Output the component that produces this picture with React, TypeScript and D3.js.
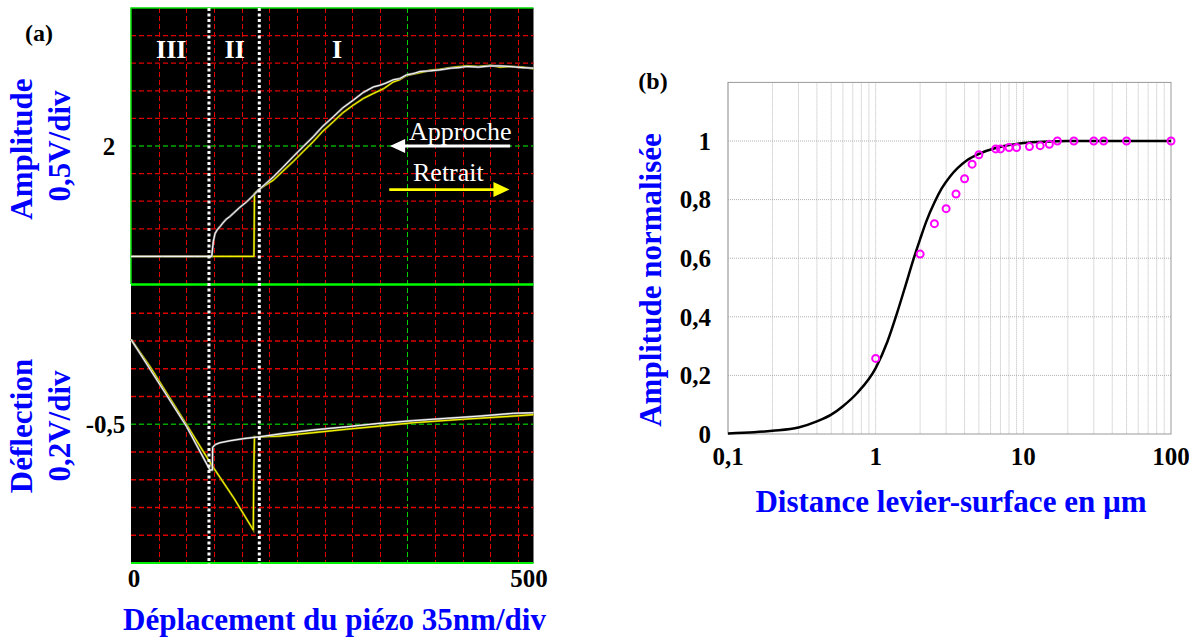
import React from "react";
import * as d3 from "d3";

const FONT = "'Liberation Serif', 'Times New Roman', Times, serif";
const BLUE = "#0000ff";

// ---------- Panel (a): oscilloscope traces (x in nm, 35 nm/div) ----------
const ampApprocheX = [0, 40, 80, 102.2, 104.2, 106.3, 109, 112.7, 116, 120.3, 125, 129.5, 137, 146.5, 153, 161.1, 170, 180.1, 192, 205.4, 218, 230.8, 243, 256.1, 268, 281.4, 294, 306.7, 315, 322.8, 332, 340, 349, 357, 365.8, 378, 391.1, 405, 415, 424.9, 440, 455, 467.1, 480, 495, 509.5];
const ampApprocheY = [0, 0, 0, 0, 0.27, 0.41, 0.48, 0.54, 0.6, 0.67, 0.72, 0.78, 0.88, 0.99, 1.08, 1.2, 1.31, 1.44, 1.61, 1.81, 1.99, 2.17, 2.36, 2.53, 2.69, 2.83, 2.97, 3.07, 3.1, 3.14, 3.2, 3.22, 3.29, 3.31, 3.35, 3.36, 3.38, 3.41, 3.42, 3.44, 3.43, 3.45, 3.45, 3.44, 3.42, 3.41];

const ampRetraitX = [0, 60, 120, 155.6, 156.0, 156.3, 161.1, 170, 180.1, 192, 205.4, 218, 230.8, 243, 256.1, 268, 281.4, 294, 306.7, 320, 332, 340, 349, 365.8, 378, 391.1, 405, 424.9, 440, 455, 467.1, 480, 495, 509.5];
const ampRetraitY = [0, 0, 0, 0, 0.6, 1.14, 1.2, 1.29, 1.38, 1.54, 1.72, 1.9, 2.08, 2.27, 2.44, 2.6, 2.74, 2.86, 2.95, 3.04, 3.16, 3.2, 3.28, 3.33, 3.37, 3.39, 3.42, 3.45, 3.44, 3.46, 3.43, 3.44, 3.43, 3.4];

const defApprocheX = [0, 40.9, 70.5, 100, 103.0, 103.4, 107, 112.7, 125.3, 142.2, 163.3, 188.6, 230.8, 273, 315.2, 357.3, 399.6, 441.8, 483.9, 509.5];
const defApprocheY = [0.112, -0.253, -0.518, -0.83, -0.83, -0.665, -0.645, -0.633, -0.619, -0.604, -0.59, -0.57, -0.541, -0.518, -0.493, -0.474, -0.457, -0.441, -0.421, -0.417];

const defRetraitX = [0, 24.1, 70.5, 102.2, 130, 154.8, 155.5, 156.3, 160, 188.6, 230.8, 273, 315.2, 357.3, 420.6, 483.9, 509.5];
const defRetraitY = [0.112, -0.085, -0.505, -0.794, -1.03, -1.262, -0.82, -0.59, -0.592, -0.585, -0.561, -0.536, -0.513, -0.489, -0.464, -0.441, -0.431];

const regionBounds = [98.7, 162.4]; // nm, dotted separators
const regionLabels = ["III", "II", "I"];
const regionLabelX = [51, 131.3, 260.8];
const xTicksA = [0, 500];

// ---------- Panel (b): normalised amplitude vs distance ----------
const measDist = [1, 2, 2.5, 3, 3.5, 4, 4.5, 5, 6.5, 7, 8, 9, 11, 13, 15, 17, 22, 30, 35, 50, 100];
const measAmp = [0.258, 0.614, 0.718, 0.769, 0.819, 0.871, 0.921, 0.953, 0.973, 0.973, 0.978, 0.978, 0.981, 0.984, 0.989, 1.0, 1.0, 1.0, 1.0, 1.0, 1.0];

const fitDist = [0.1, 0.15, 0.2, 0.3, 0.4, 0.5, 0.6, 0.75, 1.0, 1.2, 1.4, 1.6, 1.8, 2.0, 2.2, 2.5, 2.8, 3.2, 3.6, 4.2, 5, 6.5, 8, 10, 15, 20, 100];
const fitAmp = [0.002, 0.006, 0.011, 0.022, 0.043, 0.066, 0.095, 0.14, 0.225, 0.315, 0.415, 0.51, 0.595, 0.665, 0.725, 0.79, 0.838, 0.88, 0.908, 0.936, 0.956, 0.976, 0.986, 0.993, 0.998, 1.0, 1.0];

const yTicksB = [0, 0.2, 0.4, 0.6, 0.8, 1];
const xTicksB = [0.1, 1, 10, 100];

const fmt = (v: number) => String(v).replace(".", ",");

export default function App() {
  // Panel (a) scales
  const xA = d3.scaleLinear().domain([0, 509.5]).range([131, 533.5]);
  const yAmp = d3.scaleLinear().domain([-0.5, 4.5]).range([284, 8]);
  const yDef = d3.scaleLinear().domain([-1.5, 0.5]).range([563, 285.5]);

  const lineAmp = d3.line<[number, number]>().x((d) => xA(d[0])).y((d) => yAmp(d[1]));
  const lineDef = d3.line<[number, number]>().x((d) => xA(d[0])).y((d) => yDef(d[1]));
  const zip = (a: number[], b: number[]) => a.map((v, i) => [v, b[i]] as [number, number]);

  const gridX = d3.range(1, 15).map((k) => k * 35);
  const gridAmp = d3.range(0, 9).map((k) => k * 0.5);
  const gridDef = [-1.3, -1.1, -0.9, -0.7, -0.5, -0.3, -0.1, 0.1, 0.3];

  // Panel (b) scales
  const xB = d3.scaleLog().domain([0.1, 100]).range([728, 1171]);
  const yB = d3.scaleLinear().domain([0, 1.2]).range([434, 82.4]);
  const minorB: number[] = [];
  [0.1, 1, 10].forEach((d) => {
    for (let k = 1; k <= 9; k++) minorB.push(d * k);
  });
  const fitLine = d3
    .line<[number, number]>()
    .x((d) => xB(d[0]))
    .y((d) => yB(d[1]))
    .curve(d3.curveMonotoneX);

  const x0 = xA.range()[0];
  const x1 = xA.range()[1];
  const yTop = yAmp.range()[1];
  const yMid = yAmp.range()[0];
  const yBot = yDef.range()[0];

  const isCenterX = (v: number) => Math.abs(v - 350) < 1e-6;

  return (
    <svg
      width={1189}
      height={642}
      style={{ position: "absolute", left: 0, top: 0, display: "block", background: "#fff" }}
      fontFamily={FONT}
    >
      {/* ===== Panel (a) ===== */}
      <rect x={x0} y={yTop} width={x1 - x0} height={yBot - yTop} fill="#000" />
      {/* vertical grid */}
      {gridX.map((v) => (
        <line
          key={"gx" + v}
          x1={Math.round(xA(v)) + 0.5}
          x2={Math.round(xA(v)) + 0.5}
          y1={yTop}
          y2={yBot}
          stroke={isCenterX(v) ? "#00d000" : "#e00000"}
          strokeWidth={1}
          strokeDasharray="5,3"
        />
      ))}
      {/* horizontal grid amplitude */}
      {gridAmp.map((v) => (
        <line
          key={"ga" + v}
          x1={x0}
          x2={x1}
          y1={yAmp(v)}
          y2={yAmp(v)}
          stroke={v === 2 ? "#00a800" : "#e00000"}
          strokeWidth={1.3}
          strokeDasharray="5,3"
        />
      ))}
      {gridDef.map((v) => (
        <line
          key={"gd" + v}
          x1={x0}
          x2={x1}
          y1={yDef(v)}
          y2={yDef(v)}
          stroke={Math.abs(v + 0.5) < 1e-6 ? "#00a800" : "#e00000"}
          strokeWidth={1.3}
          strokeDasharray="5,3"
        />
      ))}
      {/* green borders */}
      <path d={`M${x0},${yMid} V${yTop} H${x1}`} fill="none" stroke="#00dd00" strokeWidth={1.5} />
      <line x1={x0} x2={x1} y1={yMid + 0.5} y2={yMid + 0.5} stroke="#00ff00" strokeWidth={2.5} />
      <line x1={x0} x2={x1} y1={yBot} y2={yBot} stroke="#00ee00" strokeWidth={2} />

      {/* traces: retrait (yellow) */}
      <path d={lineAmp(zip(ampRetraitX, ampRetraitY)) || ""} fill="none" stroke="#8a8a00" strokeWidth={2.2} />
      <path d={lineAmp(zip(ampRetraitX, ampRetraitY)) || ""} fill="none" stroke="#ffff00" strokeWidth={1} />
      <path d={lineDef(zip(defRetraitX, defRetraitY)) || ""} fill="none" stroke="#8a8a00" strokeWidth={2.2} />
      <path d={lineDef(zip(defRetraitX, defRetraitY)) || ""} fill="none" stroke="#ffff00" strokeWidth={1} />
      {/* traces: approche (white) */}
      <path d={lineAmp(zip(ampApprocheX, ampApprocheY)) || ""} fill="none" stroke="#8c8c8c" strokeWidth={2.2} />
      <path d={lineAmp(zip(ampApprocheX, ampApprocheY)) || ""} fill="none" stroke="#ffffff" strokeWidth={1} />
      <path d={lineDef(zip(defApprocheX, defApprocheY)) || ""} fill="none" stroke="#8c8c8c" strokeWidth={2.2} />
      <path d={lineDef(zip(defApprocheX, defApprocheY)) || ""} fill="none" stroke="#ffffff" strokeWidth={1} />

      {/* dotted region separators */}
      {regionBounds.map((v) => (
        <line
          key={"rb" + v}
          x1={xA(v)}
          x2={xA(v)}
          y1={yTop}
          y2={yBot + 2}
          stroke="#fff"
          strokeWidth={3}
          strokeDasharray="3,2.5"
        />
      ))}
      {regionLabels.map((t, i) => (
        <text
          key={t}
          x={xA(regionLabelX[i])}
          y={58}
          textAnchor="middle"
          fill="#fff"
          fontWeight="bold"
          fontSize={26}
        >
          {t}
        </text>
      ))}

      {/* Approche / Retrait annotations */}
      <text x={xA(352)} y={yAmp(2.11)} fill="#fff" fontSize={26}>
        Approche
      </text>
      <line x1={xA(480)} x2={xA(346)} y1={yAmp(2)} y2={yAmp(2)} stroke="#fff" strokeWidth={2.8} />
      <path
        d={`M${xA(327.8)},${yAmp(2)} L${xA(347)},${yAmp(2) - 7} L${xA(347)},${yAmp(2) + 7} Z`}
        fill="#fff"
      />
      <text x={xA(357)} y={yAmp(1.37)} fill="#fff" fontSize={26}>
        Retrait
      </text>
      <line x1={xA(326.9)} x2={xA(460)} y1={yAmp(1.21)} y2={yAmp(1.21)} stroke="#ffff00" strokeWidth={2.8} />
      <path
        d={`M${xA(479.1)},${yAmp(1.21)} L${xA(458.8)},${yAmp(1.21) - 7.5} L${xA(458.8)},${yAmp(1.21) + 7.5} Z`}
        fill="#ffff00"
      />

      {/* ticks (a) */}
      <text x={109} y={yAmp(2)} dy="0.35em" textAnchor="middle" fontWeight="bold" fontSize={25}>
        2
      </text>
      <text x={105.5} y={yDef(-0.5)} dy="0.35em" textAnchor="middle" fontWeight="bold" fontSize={25}>
        -0,5
      </text>
      {xTicksA.map((v) => (
        <text key={"xt" + v} x={xA(v) + 3} y={587} textAnchor="middle" fontWeight="bold" fontSize={25}>
          {v}
        </text>
      ))}
      <text x={39} y={41} textAnchor="middle" fontWeight="bold" fontSize={24}>
        (a)
      </text>
      {/* axis titles (a) */}
      <text transform="translate(32,149) rotate(-90)" textAnchor="middle" fill={BLUE} fontWeight="bold" fontSize={31}>
        Amplitude
      </text>
      <text transform="translate(70,146) rotate(-90)" textAnchor="middle" fill={BLUE} fontWeight="bold" fontSize={31}>
        0,5V/div
      </text>
      <text transform="translate(32,426) rotate(-90)" textAnchor="middle" fill={BLUE} fontWeight="bold" fontSize={31}>
        Déflection
      </text>
      <text transform="translate(70,426) rotate(-90)" textAnchor="middle" fill={BLUE} fontWeight="bold" fontSize={31}>
        0,2V/div
      </text>
      <text x={334.5} y={630} textAnchor="middle" fill={BLUE} fontWeight="bold" fontSize={31}>
        Déplacement du piézo 35nm/div
      </text>

      {/* ===== Panel (b) ===== */}
      {minorB.map((v) => (
        <line
          key={"bx" + v}
          x1={xB(v)}
          x2={xB(v)}
          y1={yB(1.2)}
          y2={yB(0)}
          stroke="#b8b8b8"
          strokeWidth={1}
          strokeDasharray="1,1"
        />
      ))}
      {yTicksB.slice(1).map((v) => (
        <line
          key={"by" + v}
          x1={xB(0.1)}
          x2={xB(100)}
          y1={yB(v)}
          y2={yB(v)}
          stroke="#b0b0b0"
          strokeWidth={1}
          strokeDasharray="1,1"
        />
      ))}
      <rect
        x={xB(0.1)}
        y={yB(1.2)}
        width={xB(100) - xB(0.1)}
        height={yB(0) - yB(1.2)}
        fill="none"
        stroke="#999"
        strokeWidth={1}
      />
      <path
        d={fitLine(zip(fitDist, fitAmp)) || ""}
        fill="none"
        stroke="#000"
        strokeWidth={2.5}
      />
      {measDist.map((d, i) => (
        <circle
          key={"m" + i}
          cx={xB(d)}
          cy={yB(measAmp[i])}
          r={3.5}
          fill="none"
          stroke="#ff00ff"
          strokeWidth={2}
        />
      ))}
      {yTicksB.map((v) => (
        <text key={"byt" + v} x={711} y={yB(v)} dy="0.35em" textAnchor="end" fontWeight="bold" fontSize={25}>
          {fmt(v)}
        </text>
      ))}
      {xTicksB.map((v) => (
        <text key={"bxt" + v} x={xB(v)} y={465} textAnchor="middle" fontWeight="bold" fontSize={25}>
          {fmt(v)}
        </text>
      ))}
      <text x={653} y={89} textAnchor="middle" fontWeight="bold" fontSize={24}>
        (b)
      </text>
      <text transform="translate(661,280) rotate(-90)" textAnchor="middle" fill={BLUE} fontWeight="bold" fontSize={31}>
        Amplitude normalisée
      </text>
      <text x={951} y={512} textAnchor="middle" fill={BLUE} fontWeight="bold" fontSize={31}>
        Distance levier-surface en µm
      </text>
    </svg>
  );
}
